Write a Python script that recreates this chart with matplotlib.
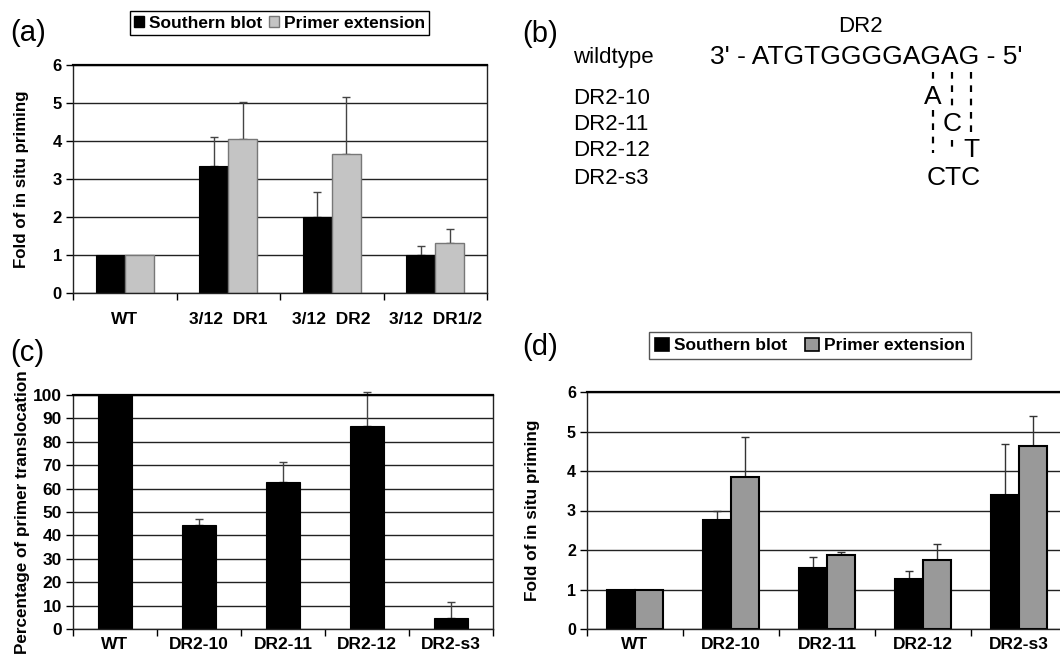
import matplotlib
matplotlib.use('Agg')
import matplotlib.pyplot as plt
from matplotlib.patches import Patch
from matplotlib.lines import Line2D
import numpy as np

plt.rcParams['font.family'] = ['Liberation Sans', 'DejaVu Sans']

W, H = 1060, 661

# panel (a)
cats_a = ['WT', '3/12  DR1', '3/12  DR2', '3/12  DR1/2']
sb_a = [1.0, 3.34, 1.99, 1.01]
sb_a_err = [0.0, 0.76, 0.66, 0.22]
pe_a = [1.0, 4.05, 3.67, 1.32]
pe_a_err = [0.0, 0.98, 1.48, 0.36]

# panel (c)
cats_c = ['WT', 'DR2-10', 'DR2-11', 'DR2-12', 'DR2-s3']
pct_c = [100.0, 44.4, 62.7, 86.9, 4.7]
pct_c_err = [0.0, 2.6, 8.8, 14.2, 6.7]

# panel (d)
cats_d = ['WT', 'DR2-10', 'DR2-11', 'DR2-12', 'DR2-s3']
sb_d = [1.0, 2.75, 1.54, 1.26, 3.40]
sb_d_err = [0.0, 0.23, 0.29, 0.22, 1.29]
pe_d = [1.0, 3.86, 1.87, 1.75, 4.63]
pe_d_err = [0.0, 1.00, 0.07, 0.40, 0.77]

# panel (b) sequences
seq_title = 'DR2'
seq_names = ['wildtype', 'DR2-10', 'DR2-11', 'DR2-12', 'DR2-s3']
seq_wt = "3' - ATGTGGGGAGAG - 5'"
seq_mut = ['A', 'C', 'T', 'CTC']


def px(x0, y0, x1, y1):
    return [x0 / W, 1 - y1 / H, (x1 - x0) / W, (y1 - y0) / H]


def fpt(x, y):
    return x / W, 1 - y / H


def setup(ax, cats, ymax, ystep, tick_fs, xtick_fs, xpad):
    n = len(cats)
    ax.set_xlim(0, n)
    ax.set_ylim(0, ymax)
    ax.set_yticks(np.arange(0, ymax + ystep / 2, ystep))
    ax.set_xticks(np.arange(0, n + 1))
    ax.set_xticklabels([])
    ax.set_xticks(np.arange(n) + 0.5, minor=True)
    ax.set_xticklabels(cats, minor=True, fontsize=xtick_fs, fontweight='bold')
    ax.tick_params(axis='x', which='minor', length=0, pad=xpad)
    ax.tick_params(axis='x', which='major', length=5, width=1, direction='out')
    ax.tick_params(axis='y', length=5, width=1, direction='out', labelsize=tick_fs, pad=3)
    for lab in ax.get_yticklabels():
        lab.set_fontweight('bold')
    ax.yaxis.grid(True, color='#222222', lw=1)
    ax.set_axisbelow(True)
    for s in ax.spines.values():
        s.set_color('#222222')
        s.set_linewidth(1)
    ax.spines['top'].set_linewidth(1.6)
    ax.spines['top'].set_color('black')


def err(ax, x, y, e, color):
    x = np.asarray(x)
    y = np.asarray(y)
    e = np.asarray(e)
    m = e > 0
    eb = ax.errorbar(x[m], y[m], yerr=[np.zeros(m.sum()), e[m]], fmt='none',
                     ecolor=color, elinewidth=1, capsize=3, capthick=1, zorder=1)
    for art in eb.lines[1] + eb.lines[2]:
        art.set_clip_on(False)


fig = plt.figure(figsize=(W / 100, H / 100), dpi=100)

# ---- (a)
ax_a = fig.add_axes(px(73, 65, 487, 293))
setup(ax_a, cats_a, 6, 1, 12, 12.5, 14)
xa = np.arange(len(cats_a)) + 0.5
wa = 0.28
err(ax_a, xa - wa / 2, sb_a, sb_a_err, '#444444')
err(ax_a, xa + wa / 2, pe_a, pe_a_err, '#444444')
ax_a.bar(xa - wa / 2, sb_a, wa, color='black', edgecolor='black', lw=0.8, zorder=2)
ax_a.bar(xa + wa / 2, pe_a, wa, color='#c4c4c4', edgecolor='#777777', lw=1, zorder=2)
ax_a.set_ylabel('Fold of in situ priming', fontsize=12.2, fontweight='bold', labelpad=17)

# ---- (c)
ax_c = fig.add_axes(px(73, 395, 493, 629))
setup(ax_c, cats_c, 100, 10, 12.5, 12.5, 6)
xc = np.arange(len(cats_c)) + 0.5
err(ax_c, xc, pct_c, pct_c_err, '#444444')
ax_c.bar(xc, pct_c, 0.41, color='black', edgecolor='black', lw=0.8, zorder=2)
ax_c.set_ylabel('Percentage of primer translocation', fontsize=12.3, fontweight='bold', labelpad=2)

# ---- (d)
ax_d = fig.add_axes(px(587, 392, 1067, 629))
setup(ax_d, cats_d, 6, 1, 11.5, 12.5, 6)
xd = np.arange(len(cats_d)) + 0.5
wd = 0.29
err(ax_d, xd - wd / 2, sb_d, sb_d_err, '#333333')
err(ax_d, xd + wd / 2, pe_d, pe_d_err, '#333333')
ax_d.bar(xd - wd / 2, sb_d, wd, color='black', edgecolor='black', lw=1.5, zorder=2)
ax_d.bar(xd + wd / 2, pe_d, wd, color='#999999', edgecolor='black', lw=1.5, zorder=2)
ax_d.set_ylabel('Fold of in situ priming', fontsize=12.4, fontweight='bold', labelpad=19)

# legends
h_a = [Patch(facecolor='black', edgecolor='black'),
       Patch(facecolor='#c4c4c4', edgecolor='#777777')]
leg_a = fig.legend(h_a, ['Southern blot', 'Primer extension'], loc='center',
                   bbox_to_anchor=fpt(279.5, 23), ncol=2, fancybox=False,
                   edgecolor='black', framealpha=1, handlelength=0.55, handleheight=0.55,
                   handletextpad=0.3, columnspacing=0.4, borderpad=0.25,
                   prop={'weight': 'bold', 'size': 12.5})
leg_a.get_frame().set_linewidth(1)

h_d = [Patch(facecolor='black', edgecolor='black', lw=1.2),
       Patch(facecolor='#999999', edgecolor='black', lw=1.2)]
leg_d = fig.legend(h_d, ['Southern blot', 'Primer extension'], loc='center',
                   bbox_to_anchor=fpt(810, 345.5), ncol=2, fancybox=False,
                   edgecolor='#555555', framealpha=1, handlelength=0.8, handleheight=0.8,
                   handletextpad=0.3, columnspacing=1.0, borderpad=0.35,
                   prop={'weight': 'bold', 'size': 12.5})
leg_d.get_frame().set_linewidth(1)

# panel labels
for lab, (x, y) in zip(['(a)', '(b)', '(c)', '(d)'],
                       [(10, 33), (522, 34), (10, 353), (522, 347)]):
    fig.text(*fpt(x, y), lab, fontsize=21, ha='left', va='center')

# ---- (b) sequence alignment
fig.text(*fpt(860, 26), seq_title, fontsize=16, ha='center', va='center')
name_y = [57, 98, 124.5, 151, 178]
for name, y in zip(seq_names, name_y):
    fig.text(*fpt(573, y), name, fontsize=16, ha='left', va='center')
fig.text(*fpt(710, 57), seq_wt, fontsize=19, ha='left', va='center')
mut_pos = [(933, 97), (952, 124), (971, 150), (954, 178)]
for m, (x, y) in zip(seq_mut, mut_pos):
    fig.text(*fpt(x, y), m, fontsize=19, ha='center', va='center')

dash_segs = [(933, 72, 84), (933, 110, 153), (952, 72, 110), (952, 140, 153), (971, 72, 132)]
for x, y0, y1 in dash_segs:
    fig.add_artist(Line2D([x / W, x / W], [1 - y0 / H, 1 - y1 / H], color='black',
                          lw=1.6, ls=(0, (3, 3))))

fig.savefig('out.png', dpi=100)
